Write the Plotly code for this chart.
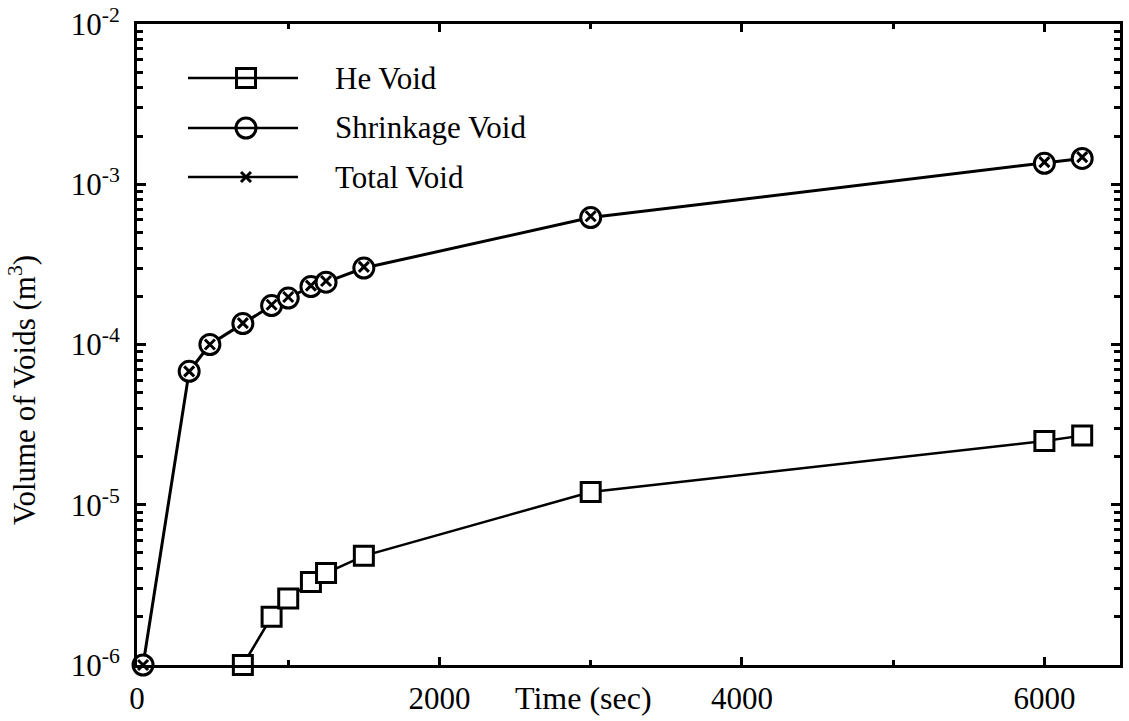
import plotly.graph_objects as go

# Void volume vs. time
shrink_time = [40, 345, 482, 700, 890, 1000, 1150, 1250, 1500, 3000, 6000, 6250]
shrink_vol = [1.0e-6, 6.8e-5, 1.0e-4, 1.35e-4, 1.75e-4, 1.95e-4, 2.3e-4, 2.45e-4,
              3.0e-4, 6.2e-4, 1.35e-3, 1.45e-3]
total_vol = [1.0e-6, 6.8e-5, 1.0e-4, 1.36e-4, 1.77e-4, 1.98e-4, 2.33e-4, 2.49e-4,
             3.05e-4, 6.32e-4, 1.375e-3, 1.477e-3]

he_time = [700, 890, 1000, 1150, 1250, 1500, 3000, 6000, 6250]
he_vol = [1.0e-6, 2.0e-6, 2.6e-6, 3.3e-6, 3.75e-6, 4.8e-6, 1.2e-5, 2.5e-5, 2.7e-5]

y_ticks = [1e-6, 1e-5, 1e-4, 1e-3, 1e-2]
y_ticktext = ["10<sup>-6</sup>", "10<sup>-5</sup>", "10<sup>-4</sup>",
              "10<sup>-3</sup>", "10<sup>-2</sup>"]

legend_names = ["He Void", "Shrinkage Void", "Total Void"]

FONT = "Liberation Serif, Times New Roman, serif"
W, H = 1129, 721
ML, MR, MT, MB = 137, 9, 24, 56

SQUARE = dict(symbol="square", size=19, color="white", line=dict(width=3, color="black"))
CIRCLE = dict(symbol="circle", size=20, color="white", line=dict(width=3, color="black"))
CROSS = dict(symbol="x-thin", size=10, color="black", line=dict(width=3, color="black"))

fig = go.Figure()

fig.add_trace(go.Scatter(
    x=he_time, y=he_vol, mode="lines+markers", name=legend_names[0],
    line=dict(color="black", width=2.5), marker=SQUARE, cliponaxis=False))
fig.add_trace(go.Scatter(
    x=shrink_time, y=shrink_vol, mode="lines+markers", name=legend_names[1],
    line=dict(color="black", width=3), marker=CIRCLE, cliponaxis=False))
fig.add_trace(go.Scatter(
    x=shrink_time, y=total_vol, mode="markers", name=legend_names[2],
    marker=CROSS, cliponaxis=False))

# Legend drawn inside the plot area (positions in pixel terms)
plot_w = W - ML - MR
plot_h = H - MT - MB


def px_x(p):
    return (p - ML) / plot_w


def px_y(p):
    return 1 - (p - MT) / plot_h


row_y = [px_y(78), px_y(128), px_y(177)]
line_x0, line_x1, mark_x, text_x = px_x(188), px_x(298), px_x(246), px_x(333)
for ry, name, sym in zip(row_y, legend_names, [SQUARE, CIRCLE, CROSS]):
    fig.add_shape(type="line", xref="paper", yref="paper",
                  x0=line_x0, x1=line_x1, y0=ry, y1=ry,
                  line=dict(color="black", width=2.5))
    fig.add_trace(go.Scatter(
        x=[mark_x], y=[ry], xaxis="x2", yaxis="y2", mode="markers",
        marker=sym, hoverinfo="skip"))
    fig.add_annotation(x=text_x, y=ry, xref="paper", yref="paper",
                       text=name, showarrow=False, xanchor="left", yanchor="middle",
                       font=dict(family=FONT, size=31, color="black"))

# Axis titles
fig.add_annotation(x=2950, y=0, xref="x", yref="paper", yshift=-33,
                   text="Time (sec)", showarrow=False, xanchor="center", yanchor="middle",
                   font=dict(family=FONT, size=32, color="black"))
fig.add_annotation(x=px_x(22), y=px_y(390), xref="paper", yref="paper",
                   text="Volume of Voids (m<sup>3</sup>)", textangle=-90, showarrow=False,
                   xanchor="center", yanchor="middle",
                   font=dict(family=FONT, size=31, color="black"))

fig.update_layout(
    width=W, height=H,
    margin=dict(l=ML, r=MR, t=MT, b=MB, pad=0, autoexpand=False),
    paper_bgcolor="white", plot_bgcolor="white",
    font=dict(family=FONT, size=31, color="black"),
    showlegend=False,
    xaxis=dict(
        range=[0, 6500], tickmode="linear", tick0=0, dtick=2000, automargin=False,
        ticks="inside", ticklen=8, tickwidth=2.5, tickcolor="black",
        minor=dict(ticks="inside", ticklen=5, tickwidth=2.5, dtick=1000, tick0=0,
                   tickcolor="black"),
        showgrid=False, zeroline=False, showline=True, linecolor="black", linewidth=3,
        mirror="allticks", tickfont=dict(family=FONT, size=31), ticklabelstandoff=4,
    ),
    yaxis=dict(
        type="log", range=[-6, -2], tickmode="array", tickvals=y_ticks,
        ticktext=y_ticktext, automargin=False,
        ticks="inside", ticklen=9, tickwidth=2.5, tickcolor="black",
        minor=dict(ticks="inside", ticklen=6, tickwidth=2.5, tickcolor="black",
                   dtick="D1"),
        showgrid=False, zeroline=False, showline=True, linecolor="black", linewidth=3,
        mirror="allticks", tickfont=dict(family=FONT, size=31), ticklabelstandoff=8,
    ),
    xaxis2=dict(range=[0, 1], overlaying="x", visible=False, fixedrange=True),
    yaxis2=dict(range=[0, 1], overlaying="y", visible=False, fixedrange=True),
)

fig.write_html("out.html")
